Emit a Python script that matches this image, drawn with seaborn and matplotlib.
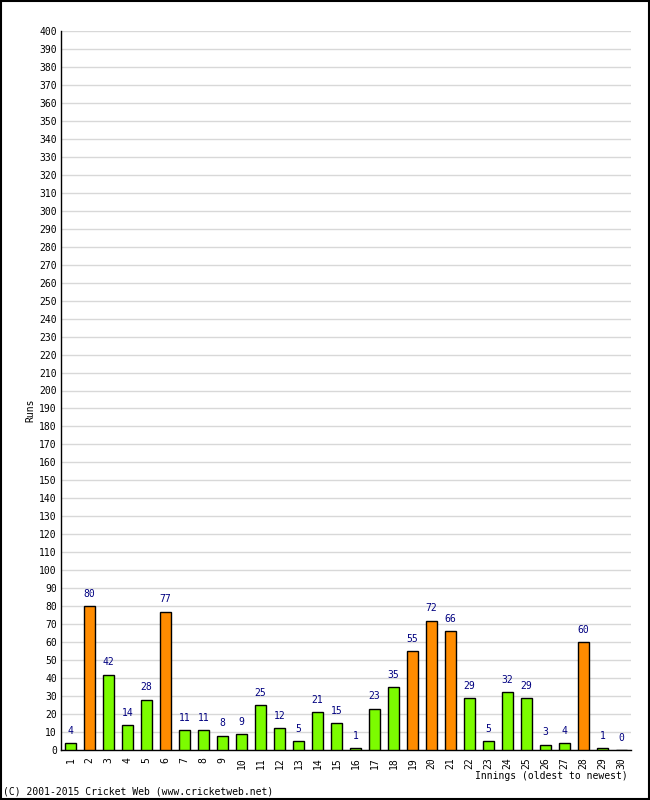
import matplotlib
matplotlib.use("Agg")
import matplotlib.pyplot as plt
import seaborn as sns
import pandas as pd
import numpy as np

innings = [str(i) for i in range(1, 31)]
runs = [4, 80, 42, 14, 28, 77, 11, 11, 8, 9, 25, 12, 5, 21, 15, 1, 23, 35, 55, 72,
        66, 29, 5, 32, 29, 3, 4, 60, 1, 0]
y_ticks = list(range(0, 401, 10))

sns.set_style("white")
plt.rcParams['font.family'] = ['DejaVu Sans Mono']
plt.rcParams['text.color'] = 'black'
plt.rcParams['xtick.color'] = 'black'
plt.rcParams['ytick.color'] = 'black'

df = pd.DataFrame({"Innings": innings, "Runs": runs})
df["kind"] = ["fifty" if r >= 50 else "normal" for r in runs]
palette = {"fifty": "#FF8C00", "normal": "#7CFC00"}

fig = plt.figure(figsize=(6.5, 8), dpi=100)
ax = fig.add_axes([61/650, 50/800, 570/650, 719/800])

sns.barplot(data=df, x="Innings", y="Runs", hue="kind", palette=palette,
            dodge=False, width=0.6, edgecolor="black", linewidth=1,
            saturation=1, legend=False, ax=ax, zorder=3)

ax.set_ylim(0, 400)
ax.set_xlim(-0.5, 29.5)
ax.set_yticks(y_ticks)
ax.set_yticklabels([str(t) for t in y_ticks], fontsize=7, color="black")
ax.yaxis.grid(True, color="#d8d8d8", linewidth=1, zorder=0)
ax.set_axisbelow(True)
ax.tick_params(axis="y", direction="in", length=5, width=1, pad=3, colors="black")
ax.set_xticks(range(30))
ax.set_xticklabels(innings, rotation=90, fontsize=7, color="black")
ax.tick_params(axis="x", length=0, pad=5)
ax.set_xticks(np.arange(-0.5, 30, 1), minor=True)
ax.tick_params(axis="x", which="minor", direction="out", length=5, width=1, colors="black")

for s in ["top", "right"]:
    ax.spines[s].set_visible(False)
for s in ["left", "bottom"]:
    ax.spines[s].set_color("black")
    ax.spines[s].set_linewidth(1)

for i, r in enumerate(runs):
    ax.text(i, r + 4, str(r), ha="center", va="bottom", fontsize=7, color="#000080")

ax.set_xlabel("")
ax.set_ylabel("")
fig.text(30/650, 390/800, "Runs", rotation=90, ha="center", va="center", fontsize=7, color="black")
fig.text(628/650, 1 - 776/800, "Innings (oldest to newest)", ha="right", va="center", fontsize=7, color="black")
fig.text(3/650, 1 - 792/800, "(C) 2001-2015 Cricket Web (www.cricketweb.net)", ha="left", va="center", fontsize=7, color="black")

fig.patches.append(plt.Rectangle((0.001, 0.001), 0.998, 0.998, transform=fig.transFigure,
                                 fill=False, edgecolor="black", linewidth=1.5))

fig.savefig("out.png", dpi=100)
